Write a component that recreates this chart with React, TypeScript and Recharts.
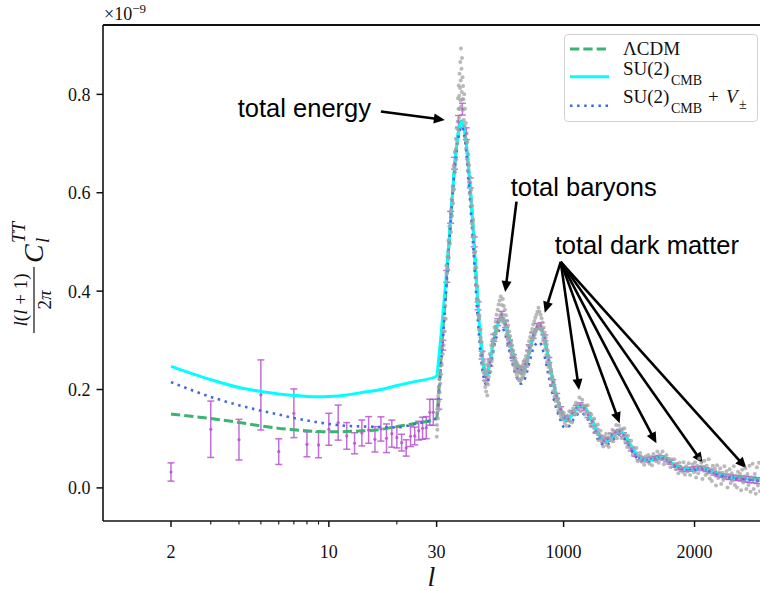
import React from 'react';
import {
  ComposedChart, Line, Scatter, XAxis, YAxis, ErrorBar, ReferenceLine, ReferenceDot, Legend,
} from 'recharts';

const SERIF = '"Liberation Serif", "DejaVu Serif", serif';
const SANS = '"Liberation Sans", Arial, sans-serif';
const INK = '#111111';
const GREEN = '#3cb371';
const CYAN = '#00ffff';
const BLUE = '#4169e1';
const PURPLE = '#ba55d3';
const GRAY = '#a3a3a3';

// ---------- axis: log for l<=30, linear above ----------
const L_SWITCH = 30;
const LIN_PER_DECADE = 1725;
const toU = (l: number) => (l <= L_SWITCH ? Math.log10(l) : Math.log10(L_SWITCH) + (l - L_SWITCH) / LIN_PER_DECADE);
const majorTickL = [2, 10, 30, 1000, 2000];
const minorTickL = [3, 4, 5, 6, 7, 8, 9, 20];
const yTicks = [0, 0.2, 0.4, 0.6, 0.8];
const L_MIN = 1;
const L_MAX = 2500;
const Y_MIN = -0.0673;
const Y_MAX = 0.941;

// ---------- theory curves (units of 1e-9) ----------
const theoryL = [2, 3, 4, 5, 6, 7, 8, 9, 10, 12, 14, 17, 20, 24, 30, 45, 60, 80, 100,
  130, 160, 190, 220, 250, 280, 310, 340, 370, 390, 410, 430, 460, 495, 530, 565, 600, 640, 675, 710,
  745, 780, 815, 850, 890, 930, 970, 1010, 1040, 1080, 1130, 1175, 1220, 1270, 1315, 1370, 1430, 1490,
  1540, 1590, 1640, 1700, 1750, 1800, 1860, 1930, 2000, 2060, 2120, 2200, 2300, 2400, 2500];

const su2Cmb = [0.247, 0.220, 0.204, 0.196, 0.191, 0.188, 0.186, 0.1855, 0.186, 0.189, 0.194, 0.200, 0.208, 0.216, 0.227, 0.26, 0.30, 0.36, 0.42,
  0.52, 0.63, 0.712, 0.745, 0.715, 0.63, 0.525, 0.395, 0.29, 0.243, 0.226, 0.244, 0.292, 0.330, 0.343, 0.322, 0.285, 0.248, 0.232, 0.247,
  0.285, 0.315, 0.327, 0.305, 0.255, 0.203, 0.165, 0.138, 0.14, 0.155, 0.168, 0.158, 0.135, 0.108, 0.095, 0.104, 0.116, 0.097,
  0.074, 0.06, 0.056, 0.06, 0.062, 0.055, 0.045, 0.038, 0.038, 0.04, 0.034, 0.026, 0.021, 0.018, 0.015];

const lcdm = [0.150, 0.141, 0.133, 0.126, 0.121, 0.118, 0.116, 0.1145, 0.114, 0.1145, 0.116, 0.119, 0.125, 0.131, 0.141, 0.19, 0.25, 0.33, 0.40,
  0.515, 0.628, 0.712, 0.746, 0.716, 0.632, 0.527, 0.397, 0.292, 0.245, 0.228, 0.246, 0.294, 0.333, 0.346, 0.325, 0.287, 0.25, 0.234, 0.249,
  0.287, 0.318, 0.33, 0.307, 0.256, 0.204, 0.166, 0.139, 0.141, 0.156, 0.169, 0.159, 0.136, 0.109, 0.096, 0.105, 0.117, 0.098,
  0.075, 0.061, 0.057, 0.061, 0.063, 0.056, 0.046, 0.039, 0.039, 0.041, 0.035, 0.027, 0.022, 0.019, 0.016];

const su2CmbV = [0.215, 0.185, 0.168, 0.157, 0.149, 0.142, 0.137, 0.133, 0.130, 0.126, 0.125, 0.1235, 0.123, 0.130, 0.142, 0.18, 0.235, 0.31, 0.39,
  0.515, 0.625, 0.70, 0.735, 0.70, 0.605, 0.49, 0.36, 0.262, 0.224, 0.21, 0.226, 0.275, 0.313, 0.325, 0.302, 0.262, 0.226, 0.212, 0.226,
  0.262, 0.29, 0.296, 0.272, 0.222, 0.175, 0.142, 0.122, 0.125, 0.141, 0.153, 0.143, 0.121, 0.096, 0.086, 0.096, 0.108, 0.089,
  0.067, 0.055, 0.052, 0.057, 0.059, 0.052, 0.043, 0.036, 0.036, 0.038, 0.032, 0.025, 0.02, 0.017, 0.014];

// ---------- low-l data with error bars ----------
const lowL = [2, 3, 4, 5, 6, 7, 8, 9, 10, 11, 12, 13, 14, 15, 16, 17, 18, 19, 20, 21, 22, 23, 24, 25, 26, 27, 28, 29];
const lowV = [0.0323, 0.1192, 0.098, 0.189, 0.0737, 0.1517, 0.0886, 0.0873, 0.1192, 0.1327, 0.1056, 0.0907, 0.1117, 0.1178,
  0.0988, 0.1198, 0.1009, 0.1103, 0.1022, 0.092, 0.0812, 0.105, 0.1056, 0.1164, 0.1212, 0.1225, 0.1537, 0.1537];
const lowErr = [0.0186, 0.0573, 0.0413, 0.0712, 0.0261, 0.0495, 0.0254, 0.026, 0.0325, 0.0356, 0.0271, 0.0214, 0.0264, 0.0271,
  0.0258, 0.0247, 0.0291, 0.0275, 0.021, 0.017, 0.0166, 0.021, 0.018, 0.019, 0.0224, 0.0224, 0.0264, 0.0264];

// ---------- high-l binned data ----------
const binnedL = [47, 77, 107, 137, 167, 197, 227, 257, 287, 317, 347, 377, 407, 437, 467, 497, 527, 557, 587, 617, 647, 677, 707, 737,
  767, 797, 827, 857, 887, 917, 947, 977, 1007, 1037, 1067, 1097, 1127, 1157, 1187, 1217, 1247, 1277, 1307, 1337, 1367, 1397, 1427,
  1457, 1487, 1517, 1547, 1577, 1607, 1637, 1667, 1697, 1727, 1757, 1787, 1817, 1847, 1877, 1907, 1937, 1967, 1997, 2027, 2057, 2087,
  2117, 2147, 2177, 2207, 2237, 2267, 2297, 2327, 2357, 2387, 2417, 2447, 2477];
const binnedV = [0.17, 0.29, 0.43, 0.55, 0.66, 0.745, 0.77, 0.72, 0.62, 0.5, 0.37, 0.27, 0.225, 0.255, 0.305, 0.337, 0.352, 0.333, 0.295,
  0.265, 0.242, 0.24, 0.252, 0.285, 0.31, 0.328, 0.33, 0.305, 0.26, 0.215, 0.187, 0.16, 0.142, 0.14, 0.152, 0.163, 0.168, 0.162, 0.148,
  0.135, 0.116, 0.103, 0.096, 0.099, 0.107, 0.113, 0.115, 0.108, 0.094, 0.079, 0.068, 0.061, 0.058, 0.057, 0.059, 0.06, 0.062, 0.061,
  0.057, 0.052, 0.046, 0.041, 0.038, 0.037, 0.038, 0.039, 0.04, 0.04, 0.037, 0.034, 0.03, 0.027, 0.025, 0.023, 0.022, 0.021, 0.02,
  0.019, 0.018, 0.017, 0.016, 0.015];
const binnedErr = [0.01, 0.01, 0.012, 0.012, 0.012, 0.012, 0.012, 0.012, 0.01, 0.01, 0.008, 0.008, 0.007, 0.007, 0.007, 0.007, 0.007,
  0.007, 0.006, 0.006, 0.006, 0.006, 0.006, 0.006, 0.006, 0.006, 0.006, 0.006, 0.005, 0.005, 0.005, 0.005, 0.005, 0.005, 0.005, 0.005,
  0.005, 0.005, 0.005, 0.004, 0.004, 0.004, 0.004, 0.004, 0.004, 0.004, 0.004, 0.004, 0.004, 0.004, 0.004, 0.004, 0.004, 0.004, 0.004,
  0.004, 0.004, 0.004, 0.004, 0.004, 0.004, 0.004, 0.004, 0.004, 0.004, 0.004, 0.004, 0.004, 0.004, 0.004, 0.004, 0.004, 0.004, 0.005,
  0.005, 0.005, 0.005, 0.005, 0.006, 0.006, 0.006, 0.006];

// ---------- high-l unbinned data (l, value) ----------
const unbinned: [number, number][] = [
  [31, 0.104], [33, 0.128], [34, 0.152], [36, 0.118], [38, 0.163], [40, 0.141], [42, 0.187], [44, 0.158], [46, 0.205], [48, 0.176],
  [50, 0.221], [53, 0.194], [55, 0.238], [58, 0.212], [61, 0.262], [64, 0.231], [67, 0.284], [70, 0.25], [73, 0.3], [77, 0.272],
  [80, 0.318], [84, 0.29], [88, 0.345], [92, 0.318], [96, 0.371], [100, 0.344],
  [104, 0.452], [108, 0.418], [112, 0.47], [116, 0.445], [120, 0.503], [124, 0.468], [128, 0.532], [132, 0.497], [136, 0.561],
  [140, 0.52], [144, 0.587], [148, 0.553], [152, 0.612], [156, 0.578], [160, 0.655], [164, 0.607], [168, 0.683], [172, 0.642],
  [176, 0.71], [180, 0.668], [184, 0.731], [188, 0.7],
  [106, 0.437], [118, 0.481], [142, 0.566], [154, 0.604], [166, 0.652], [178, 0.688],
  [191, 0.745], [193, 0.792], [195, 0.728], [197, 0.771], [199, 0.818], [201, 0.752], [203, 0.797], [205, 0.842], [207, 0.77],
  [209, 0.813], [211, 0.866], [212, 0.788], [214, 0.828], [216, 0.893], [218, 0.776], [220, 0.852], [222, 0.805], [224, 0.874],
  [226, 0.79], [228, 0.835], [230, 0.768], [232, 0.817], [235, 0.79], [238, 0.748], [241, 0.8], [244, 0.735], [247, 0.771], [250, 0.712],
  [253, 0.742], [256, 0.69], [259, 0.721], [262, 0.668], [265, 0.703], [268, 0.645], [272, 0.678], [275, 0.622], [278, 0.656],
  [282, 0.598], [286, 0.632], [290, 0.572], [294, 0.606], [298, 0.538], [302, 0.574], [306, 0.51], [310, 0.545], [314, 0.478],
  [318, 0.512], [322, 0.447], [326, 0.48], [330, 0.412], [334, 0.448], [338, 0.385], [342, 0.41], [346, 0.352], [350, 0.381],
  [354, 0.322], [358, 0.35], [362, 0.298], [366, 0.322], [370, 0.272], [374, 0.296], [378, 0.252], [382, 0.276], [386, 0.236],
  [390, 0.258], [394, 0.218], [398, 0.243],
  [258, 0.703], [270, 0.661], [283, 0.622], [294, 0.583], [306, 0.527], [318, 0.478], [330, 0.428], [342, 0.384], [354, 0.344],
  [366, 0.306], [378, 0.268],
  [402, 0.205], [405, 0.232], [408, 0.196], [411, 0.251], [414, 0.213], [417, 0.188], [420, 0.238], [423, 0.21], [426, 0.258],
  [429, 0.226], [432, 0.249], [436, 0.272], [440, 0.236], [444, 0.262], [448, 0.29], [452, 0.258], [456, 0.301],
  [460, 0.276], [464, 0.313], [468, 0.29], [472, 0.326], [476, 0.302], [480, 0.338], [484, 0.316], [488, 0.352], [492, 0.321],
  [496, 0.362], [500, 0.336], [504, 0.373], [508, 0.343], [512, 0.381], [516, 0.35], [520, 0.389], [524, 0.355], [528, 0.372],
  [532, 0.338], [536, 0.384], [540, 0.352], [544, 0.37], [548, 0.334], [552, 0.362], [556, 0.329], [560, 0.351], [564, 0.312],
  [568, 0.34], [572, 0.305], [576, 0.33], [580, 0.297], [584, 0.318], [588, 0.288], [592, 0.309], [596, 0.276], [600, 0.298],
  [462, 0.296], [474, 0.312], [486, 0.327], [498, 0.337], [510, 0.342], [522, 0.349], [534, 0.344], [546, 0.341], [558, 0.33],
  [570, 0.318], [582, 0.306], [594, 0.293],
  [604, 0.268], [608, 0.29], [612, 0.258], [616, 0.279], [620, 0.249], [624, 0.27], [628, 0.242], [632, 0.263], [636, 0.235],
  [640, 0.256], [644, 0.229], [648, 0.252], [652, 0.223], [656, 0.248], [660, 0.219], [664, 0.245], [668, 0.218], [672, 0.243],
  [676, 0.221], [680, 0.246], [684, 0.224], [688, 0.25], [692, 0.228], [696, 0.255], [700, 0.233],
  [606, 0.281], [618, 0.266], [630, 0.254], [642, 0.244], [654, 0.237], [666, 0.234], [678, 0.232], [690, 0.238], [702, 0.243],
  [704, 0.261], [708, 0.239], [712, 0.268], [716, 0.248], [720, 0.279], [724, 0.257], [728, 0.289], [732, 0.266], [736, 0.298],
  [740, 0.274], [744, 0.307], [748, 0.282], [752, 0.316], [756, 0.291], [760, 0.323], [764, 0.3], [768, 0.332], [772, 0.307],
  [776, 0.339], [780, 0.312], [784, 0.346], [788, 0.318], [792, 0.352], [796, 0.324], [800, 0.358], [804, 0.33], [808, 0.366],
  [812, 0.332], [816, 0.358], [820, 0.327], [824, 0.352], [828, 0.321], [832, 0.345], [836, 0.312], [840, 0.336], [844, 0.303],
  [848, 0.326],
  [714, 0.251], [726, 0.262], [738, 0.276], [750, 0.29], [762, 0.303], [774, 0.313], [786, 0.321], [798, 0.327], [810, 0.331],
  [822, 0.329], [834, 0.321], [846, 0.311],
  [852, 0.293], [856, 0.316], [860, 0.283], [864, 0.305], [868, 0.27], [872, 0.292], [876, 0.258], [880, 0.279], [884, 0.246],
  [888, 0.266], [892, 0.234], [896, 0.253], [900, 0.222], [905, 0.24], [910, 0.209], [915, 0.227], [920, 0.197], [925, 0.214],
  [930, 0.186], [935, 0.202], [940, 0.176], [945, 0.19], [950, 0.167], [955, 0.18], [960, 0.158], [965, 0.171], [970, 0.151],
  [975, 0.163], [980, 0.145], [985, 0.156], [990, 0.14], [995, 0.15],
  [858, 0.299], [870, 0.283], [882, 0.268], [894, 0.25], [906, 0.236], [918, 0.221], [930, 0.206], [942, 0.193], [954, 0.181],
  [966, 0.172], [978, 0.161], [990, 0.151],
  [1002, 0.152], [1009, 0.132], [1016, 0.141], [1023, 0.126], [1030, 0.147], [1037, 0.138], [1044, 0.156], [1051, 0.135],
  [1058, 0.152], [1065, 0.133], [1072, 0.162], [1079, 0.155], [1086, 0.15], [1093, 0.173], [1100, 0.151], [1107, 0.17],
  [1114, 0.162], [1121, 0.184], [1128, 0.156], [1135, 0.17], [1142, 0.179], [1149, 0.16], [1156, 0.167], [1163, 0.149],
  [1170, 0.167], [1177, 0.155], [1184, 0.168], [1191, 0.14], [1198, 0.151], [1205, 0.126], [1212, 0.149], [1219, 0.135],
  [1226, 0.125], [1233, 0.141], [1240, 0.113], [1247, 0.126], [1254, 0.112], [1261, 0.129], [1268, 0.097], [1275, 0.108],
  [1282, 0.116], [1289, 0.096], [1296, 0.102], [1303, 0.084], [1310, 0.104], [1317, 0.093], [1324, 0.11], [1331, 0.087],
  [1338, 0.102], [1345, 0.083], [1352, 0.11], [1359, 0.102], [1366, 0.096], [1373, 0.118], [1380, 0.095], [1387, 0.114],
  [1394, 0.106], [1401, 0.128], [1408, 0.101], [1415, 0.116], [1422, 0.127], [1429, 0.11], [1436, 0.119], [1443, 0.101],
  [1450, 0.119], [1457, 0.106], [1464, 0.121], [1471, 0.094], [1478, 0.106], [1485, 0.083], [1492, 0.106], [1499, 0.092],
  [1506, 0.081], [1516, 0.096], [1526, 0.067], [1536, 0.081], [1546, 0.068], [1556, 0.081], [1566, 0.054], [1576, 0.065],
  [1586, 0.071], [1596, 0.053], [1606, 0.061], [1616, 0.047], [1626, 0.064], [1636, 0.054], [1646, 0.067], [1656, 0.049],
  [1666, 0.063], [1676, 0.046], [1686, 0.069], [1696, 0.06], [1706, 0.054], [1716, 0.074], [1726, 0.051], [1736, 0.068],
  [1746, 0.058], [1756, 0.074], [1766, 0.048], [1776, 0.061], [1786, 0.067], [1796, 0.05], [1806, 0.057], [1816, 0.042],
  [1826, 0.058], [1836, 0.047], [1846, 0.058], [1856, 0.038], [1866, 0.049], [1876, 0.03], [1886, 0.051], [1896, 0.041],
  [1906, 0.033], [1916, 0.052], [1926, 0.027], [1936, 0.044], [1946, 0.034], [1956, 0.05], [1966, 0.026], [1976, 0.04],
  [1986, 0.048], [1996, 0.032],
  [2004, 0.052], [2012, 0.021], [2020, 0.045], [2028, 0.03], [2036, 0.06], [2044, 0.037], [2052, 0.051], [2060, 0.018],
  [2068, 0.042], [2076, 0.055], [2084, 0.026], [2092, 0.045], [2100, 0.03], [2108, 0.058], [2116, 0.019], [2124, 0.038],
  [2132, 0.014], [2140, 0.045], [2148, 0.03], [2156, 0.039], [2164, 0.005], [2172, 0.046], [2180, 0.02], [2188, 0.032],
  [2196, 0.04], [2204, 0.008], [2212, 0.031], [2220, 0.016], [2228, 0.044], [2236, 0.021], [2244, 0.034], [2252, 0.001],
  [2260, 0.025], [2268, 0.038], [2276, 0.01], [2284, 0.03], [2292, 0.015], [2300, 0.044], [2308, 0.006], [2316, 0.024],
  [2324, 0.001], [2332, 0.033], [2340, 0.019], [2348, 0.028], [2356, -0.005], [2364, 0.037], [2372, 0.011], [2380, 0.023],
  [2388, 0.04], [2396, -0.002], [2404, 0.028], [2412, 0.006], [2420, 0.045], [2428, -0.008], [2436, 0.021], [2444, 0.049],
  [2452, -0.002], [2460, 0.028], [2468, -0.012], [2476, 0.042], [2484, 0.005], [2492, 0.051], [2500, -0.007],
];

// ---------- annotations (data coordinates) ----------
const annotationTexts = [
  { label: 'total energy', l: 3.95, v: 0.754 },
  { label: 'total baryons', l: 596, v: 0.594 },
  { label: 'total dark matter', l: 932, v: 0.476 },
];
const annotationArrows = [
  { fromL: 17, fromV: 0.765, toL: 93, toV: 0.748 },
  { fromL: 640, fromV: 0.582, toL: 554, toV: 0.398 },
  { fromL: 978, fromV: 0.4595, toL: 856, toV: 0.356 },
  { fromL: 978, fromV: 0.4595, toL: 1118, toV: 0.199 },
  { fromL: 978, fromV: 0.4595, toL: 1428, toV: 0.1314 },
  { fromL: 978, fromV: 0.4595, toL: 1709, toV: 0.0907 },
  { fromL: 978, fromV: 0.4595, toL: 2064, toV: 0.05 },
  { fromL: 978, fromV: 0.4595, toL: 2396, toV: 0.0399 },
];

// ---------- derived tables ----------
const curve = (vals: number[]) => theoryL.map((l, i) => ({ x: toU(l), y: vals[i] }));
const lcdmData = curve(lcdm);
const su2Data = curve(su2Cmb);
const su2VData = curve(su2CmbV);
const lowData = lowL.map((l, i) => ({ x: toU(l), y: lowV[i], e: lowErr[i] }));
const binnedData = binnedL.map((l, i) => ({ x: toU(l), y: binnedV[i], e: binnedErr[i] }));
const unbinnedData = unbinned.map(([l, v]) => ({ x: toU(l), y: v }));
const xTicks = [...majorTickL, ...minorTickL].map(toU);
const X_DOMAIN: [number, number] = [toU(L_MIN), toU(L_MAX)];

const XTick = (props: any) => {
  const { x, y, payload } = props;
  const major = majorTickL.find((l) => Math.abs(toU(l) - payload.value) < 1e-9);
  const isMajor = major !== undefined;
  return (
    <g>
      <line x1={x} x2={x} y1={y} y2={y + (isMajor ? 6 : 3.5)} stroke={INK} strokeWidth={isMajor ? 1.5 : 1.1} />
      {isMajor && (
        <text x={x} y={y + 36.5} textAnchor="middle" fontFamily={SERIF} fontSize={18} fill={INK}>{major}</text>
      )}
    </g>
  );
};

const Arrow = (props: any) => {
  const { x1, y1, x2, y2 } = props;
  if ([x1, y1, x2, y2].some((v) => typeof v !== 'number' || isNaN(v))) return null;
  const dx = x2 - x1;
  const dy = y2 - y1;
  const len = Math.hypot(dx, dy) || 1;
  const ux = dx / len;
  const uy = dy / len;
  const hl = 11;
  const hw = 5;
  const bx = x2 - ux * hl;
  const by = y2 - uy * hl;
  return (
    <g>
      <line x1={x1} y1={y1} x2={bx + ux * 2} y2={by + uy * 2} stroke="#000" strokeWidth={2.6} />
      <polygon points={`${x2},${y2} ${bx - uy * hw},${by + ux * hw} ${bx + uy * hw},${by - ux * hw}`} fill="#000" />
    </g>
  );
};

const AxisDecor = () => (
  <g>
    <text x={104} y={20} fontFamily={SERIF} fontSize={18} fill={INK}>
      ×10
      <tspan fontSize={13} dy={-7}>−9</tspan>
    </text>
    <g transform="translate(34 333) rotate(-90)" fill={INK} fontFamily={SERIF}>
      <text x={33} y={-7} fontSize={19} textAnchor="middle">
        <tspan fontStyle="italic">l</tspan>(<tspan fontStyle="italic">l</tspan> + 1)
      </text>
      <line x1={0} x2={66} y1={0} y2={0} stroke={INK} strokeWidth={1.2} />
      <text x={33} y={17} fontSize={19} textAnchor="middle">
        2<tspan fontStyle="italic">π</tspan>
      </text>
      <text x={70} y={9} fontSize={28} fontStyle="italic">C</text>
      <text x={90} y={-9} fontSize={19} fontStyle="italic">TT</text>
      <text x={90} y={15} fontSize={19} fontStyle="italic">l</text>
    </g>
  </g>
);

const LegendBox = () => (
  <div style={{ width: 194, height: 88, boxSizing: 'border-box', border: '1px solid #d3d3d3', borderRadius: 4, background: 'rgba(255,255,255,0.85)' }}>
    <svg width={192} height={86} style={{ display: 'block' }}>
      <line x1={5} x2={44} y1={14} y2={14} stroke={GREEN} strokeWidth={3} strokeDasharray="9.3 4" />
      <text x={58} y={20} fontFamily={SERIF} fontSize={19} fill={INK}>ΛCDM</text>
      <line x1={5} x2={44} y1={41.7} y2={41.7} stroke={CYAN} strokeWidth={3} />
      <text x={58} y={39.5} fontFamily={SERIF} fontSize={19} fill={INK}>SU(2)</text>
      <text x={106} y={49.5} fontFamily={SERIF} fontSize={14} fill={INK}>CMB</text>
      <line x1={5} x2={44} y1={70.7} y2={70.7} stroke={BLUE} strokeWidth={2.6} strokeDasharray="2.5 4.6" />
      <text x={58} y={68.3} fontFamily={SERIF} fontSize={19} fill={INK}>SU(2)</text>
      <text x={106} y={78} fontFamily={SERIF} fontSize={14} fill={INK}>CMB</text>
      <text x={143} y={68.3} fontFamily={SERIF} fontSize={19} fill={INK}>+</text>
      <text x={161} y={68.3} fontFamily={SERIF} fontSize={19} fontStyle="italic" fill={INK}>V</text>
      <text x={174} y={74} fontFamily={SERIF} fontSize={14} fill={INK}>±</text>
    </svg>
  </div>
);

const dot = (r: number, fill: string, opacity: number) => (p: any) =>
  <circle cx={p.cx} cy={p.cy} r={r} fill={fill} fillOpacity={opacity} />;

export default function App() {
  return (
    <div style={{ position: 'absolute', left: 0, top: 0, width: 760, height: 591, background: '#fff', overflow: 'hidden' }}>
      <ComposedChart width={760} height={591} margin={{ top: 25, right: 0, bottom: 20, left: 43 }}>
        <XAxis
          xAxisId="main"
          type="number"
          dataKey="x"
          domain={X_DOMAIN}
          allowDataOverflow
          ticks={xTicks}
          interval={0}
          tick={<XTick />}
          tickLine={false}
          tickSize={0}
          tickMargin={0}
          height={50}
          axisLine={{ stroke: INK, strokeWidth: 1.6 }}
          label={() => (
            <text x={431.5} y={586} textAnchor="middle" fontFamily={SERIF} fontStyle="italic" fontSize={28} fill={INK}>l</text>
          )}
        />
        <YAxis
          type="number"
          domain={[Y_MIN, Y_MAX]}
          allowDataOverflow
          ticks={yTicks}
          interval={0}
          width={60}
          tickFormatter={(v: number) => v.toFixed(1)}
          tick={{ fontFamily: SERIF, fontSize: 18, fill: INK }}
          tickSize={6.5}
          tickMargin={6}
          tickLine={{ stroke: INK, strokeWidth: 1.5 }}
          axisLine={{ stroke: INK, strokeWidth: 1.6 }}
          label={() => <AxisDecor />}
        />
        <ReferenceLine xAxisId="main" y={Y_MAX} stroke={INK} strokeWidth={1.8} />

        <Scatter xAxisId="main" data={unbinnedData} dataKey="y" isAnimationActive={false} shape={dot(2, GRAY, 0.75)} />
        <Scatter xAxisId="main" data={binnedData} dataKey="y" isAnimationActive={false} shape={dot(1.2, PURPLE, 0.9)}>
          <ErrorBar dataKey="e" direction="y" width={3.5} stroke={PURPLE} strokeWidth={1.4} strokeOpacity={0.85} isAnimationActive={false} />
        </Scatter>
        <Scatter xAxisId="main" data={lowData} dataKey="y" isAnimationActive={false} shape={dot(1.6, PURPLE, 0.9)}>
          <ErrorBar dataKey="e" direction="y" width={3.5} stroke={PURPLE} strokeWidth={1.5} strokeOpacity={0.85} isAnimationActive={false} />
        </Scatter>

        <Line xAxisId="main" data={lcdmData} dataKey="y" type="monotone" stroke={GREEN} strokeWidth={3} strokeDasharray="9.3 4" dot={false} activeDot={false} isAnimationActive={false} />
        <Line xAxisId="main" data={su2Data} dataKey="y" type="monotone" stroke={CYAN} strokeWidth={3} dot={false} activeDot={false} isAnimationActive={false} />
        <Line xAxisId="main" data={su2VData} dataKey="y" type="monotone" stroke={BLUE} strokeWidth={2.6} strokeDasharray="2.5 4.6" dot={false} activeDot={false} isAnimationActive={false} />

        {annotationArrows.map((a, i) => (
          <ReferenceLine
            key={`arr${i}`}
            xAxisId="main"
            segment={[{ x: toU(a.fromL), y: a.fromV }, { x: toU(a.toL), y: a.toV }]}
            shape={(p: any) => <Arrow {...p} />}
          />
        ))}
        {annotationTexts.map((t, i) => (
          <ReferenceDot
            key={`txt${i}`}
            xAxisId="main"
            x={toU(t.l)}
            y={t.v}
            r={0}
            shape={(p: any) => (
              <text x={p.cx} y={p.cy} fontFamily={SANS} fontSize={25.5} fill="#000">{t.label}</text>
            )}
          />
        ))}

        <Legend
          layout="vertical"
          align="center"
          verticalAlign="middle"
          content={() => <LegendBox />}
          wrapperStyle={{ position: 'absolute', left: 564, top: 34, width: 194, height: 88 }}
        />
      </ComposedChart>
    </div>
  );
}
